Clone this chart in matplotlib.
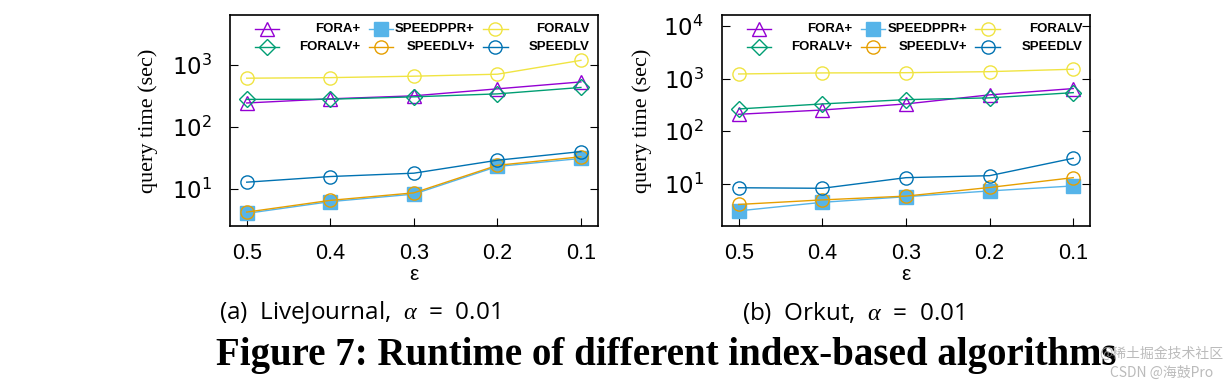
import matplotlib
matplotlib.use('Agg')
import matplotlib.pyplot as plt
import numpy as np

eps_labels = ['0.5', '0.4', '0.3', '0.2', '0.1']

series_names = ['FORA+', 'SPEEDPPR+', 'FORALV', 'FORALV+', 'SPEEDLV+', 'SPEEDLV']

# LiveJournal, alpha = 0.01
lj_fora_plus = [245, 286, 320, 415, 537]
lj_speedppr_plus = [4.0, 6.2, 8.2, 23, 31]
lj_foralv = [617, 630, 665, 716, 1200]
lj_foralv_plus = [280, 282, 308, 344, 437]
lj_speedlv_plus = [4.2, 6.5, 8.6, 24, 33]
lj_speedlv = [12.8, 15.8, 17.9, 29, 40]

# Orkut, alpha = 0.01
ok_fora_plus = [210, 253, 330, 490, 645]
ok_speedppr_plus = [3.1, 4.5, 5.75, 7.4, 9.2]
ok_foralv = [1220, 1277, 1290, 1350, 1500]
ok_foralv_plus = [265, 330, 398, 430, 540]
ok_speedlv_plus = [4.1, 5.0, 5.9, 8.6, 13.2]
ok_speedlv = [8.5, 8.3, 13.2, 14.4, 30.8]

captions = ['(a)  LiveJournal,  $\\alpha$  =  0.01', '(b)  Orkut,  $\\alpha$  =  0.01']
fig_title = 'Figure 7: Runtime of different index-based algorithms'

styles = {
	'FORA+': dict(color='#9400d3', marker='^', mfc='none'),
	'SPEEDPPR+': dict(color='#56b4e9', marker='s', mfc='#56b4e9'),
	'FORALV': dict(color='#f0e442', marker='o', mfc='none'),
	'FORALV+': dict(color='#009e73', marker='D', mfc='none', ms=8),
	'SPEEDLV+': dict(color='#e69f00', marker='o', mfc='none'),
	'SPEEDLV': dict(color='#0072b2', marker='o', mfc='none'),
}

plt.rcParams['mathtext.fontset'] = 'custom'
plt.rcParams['mathtext.rm'] = 'Liberation Sans'
plt.rcParams['mathtext.it'] = 'Liberation Serif:italic'


def draw_legend(ax):
	# gnuplot-like key: sample first, text right-justified
	sample_x = [(0.068, 0.134), (0.378, 0.443), (0.688, 0.756)]
	text_end = [0.355, 0.666, 0.979]
	rows = [0.934, 0.85]
	for i, name in enumerate(series_names):
		r, c = divmod(i, 3)
		st = dict(styles[name])
		ms = st.pop('ms', 9.5)
		x0, x1 = sample_x[c]
		ax.plot([x0, x1], [rows[r], rows[r]], transform=ax.transAxes, lw=1.0, color=st['color'], clip_on=False)
		ax.plot([(x0 + x1) / 2], [rows[r]], transform=ax.transAxes, ms=ms, ls='none', clip_on=False, **st)
		ax.text(text_end[c], rows[r], name, transform=ax.transAxes, ha='right', va='center',
			fontsize=9.5, fontweight='bold', family='Liberation Sans')


def draw_panel(ax, data, ylim, yticks):
	x = np.arange(len(eps_labels))
	for name in series_names:
		st = dict(styles[name])
		ms = st.pop('ms', 9.5)
		ax.plot(x, data[name], lw=1.0, ms=ms, **st)

	ax.set_yscale('log')
	ax.set_ylim(*ylim)
	ax.set_xlim(-0.2, 4.2)
	ax.set_xticks(x)
	ax.set_xticklabels(eps_labels, family='Liberation Sans', fontsize=15.5)
	ax.set_yticks(yticks)
	ax.yaxis.set_minor_locator(matplotlib.ticker.NullLocator())
	for lab in ax.get_yticklabels():
		lab.set_fontsize(16.5)
	ax.tick_params(axis='x', direction='in', length=6, pad=12, top=False)
	ax.tick_params(axis='y', direction='in', length=6, pad=13, right=True)
	for sp in ax.spines.values():
		sp.set_linewidth(1.2)

	ax.set_ylabel('query time (sec)', family='Liberation Serif', fontsize=16)
	ax.set_xlabel('ε', family='Liberation Sans', fontsize=15, va='top')
	ax.xaxis.set_label_coords(0.5, -0.185)
	draw_legend(ax)


def main():
	fig = plt.figure(figsize=(12.32, 3.86), dpi=100)
	ax_a = fig.add_axes([0.1867, 0.4145, 0.2984, 0.5466])
	ax_b = fig.add_axes([0.586, 0.4145, 0.2987, 0.5466])

	data_a = dict(zip(series_names, [lj_fora_plus, lj_speedppr_plus, lj_foralv, lj_foralv_plus, lj_speedlv_plus, lj_speedlv]))
	data_b = dict(zip(series_names, [ok_fora_plus, ok_speedppr_plus, ok_foralv, ok_foralv_plus, ok_speedlv_plus, ok_speedlv]))

	draw_panel(ax_a, data_a, (2.5, 6500), [10, 100, 1000])
	draw_panel(ax_b, data_b, (1.6, 16000), [10, 100, 1000, 10000])
	ax_a.yaxis.set_label_coords(-0.196, 0.5)
	ax_b.yaxis.set_label_coords(-0.19, 0.5)

	fig.text(0.292, 0.189, captions[0], ha='center', va='center', fontsize=17.5, family='Open Sans')
	fig.text(0.692, 0.189, captions[1], ha='center', va='center', fontsize=17.5, family='Open Sans')
	fig.text(0.5406, 0.080, fig_title, ha='center', va='center', fontsize=28, fontweight='bold', family='Liberation Serif')

	fig.text(0.993, 0.085, '@稀土掘金技术社区', ha='right', va='center', fontsize=10, color='#aaaaaa', alpha=0.8, family=['Noto Sans CJK SC', 'DejaVu Sans'])
	fig.text(0.985, 0.035, 'CSDN @海鼓Pro', ha='right', va='center', fontsize=10, color='#aaaaaa', alpha=0.8, family=['Noto Sans CJK SC', 'DejaVu Sans'])

	fig.savefig('out.png', dpi=100)


if __name__ == '__main__':
	main()
